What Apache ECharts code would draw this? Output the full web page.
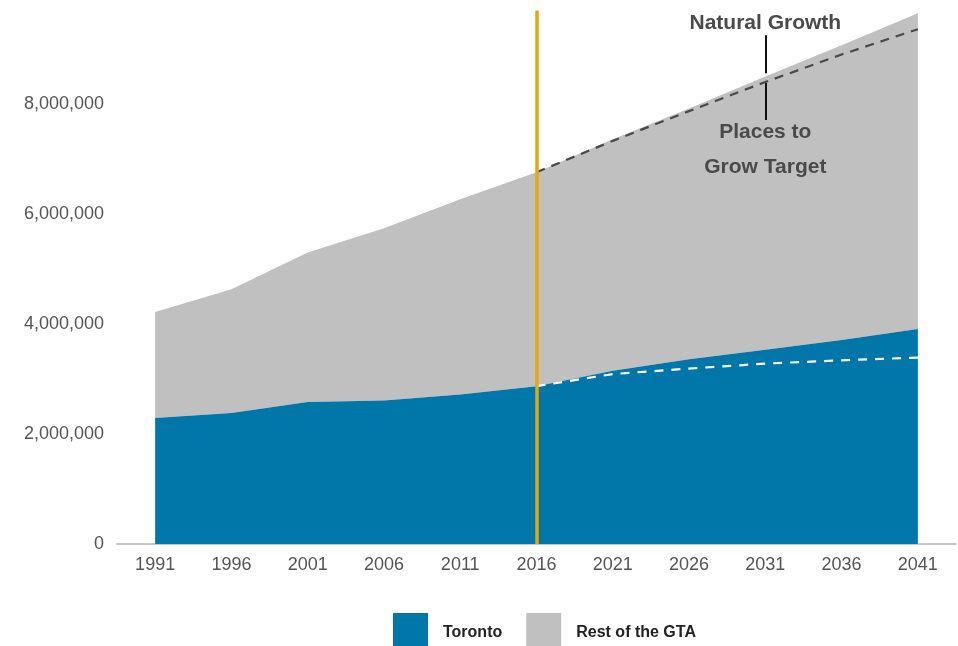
<!DOCTYPE html>
<html>
<head>
<meta charset="utf-8">
<script src="https://cdn.jsdelivr.net/npm/echarts@6/dist/echarts.min.js"></script>
<style>
  html, body { margin: 0; padding: 0; background: #ffffff; overflow: hidden; }
  #chart { width: 958px; height: 646px; }
</style>
</head>
<body>
<div id="chart"></div>
<script>
// ---- Data ----
const years = ['1991', '1996', '2001', '2006', '2011', '2016', '2021', '2026', '2031', '2036', '2041'];
const toronto = [2290000, 2380000, 2580000, 2610000, 2720000, 2870000, 3150000, 3360000, 3530000, 3710000, 3910000];
const restOfGta = [1930000, 2250000, 2720000, 3130000, 3550000, 3890000, 4210000, 4560000, 4970000, 5360000, 5740000];
const gtaTarget = [null, null, null, null, null, 6760000, 7330000, 7870000, 8400000, 8900000, 9360000];
const torontoTarget = [null, null, null, null, null, 2870000, 3090000, 3190000, 3280000, 3340000, 3390000];
const yTicks = [0, 2000000, 4000000, 6000000, 8000000];
const markerYear = '2016';
const annotationYear = '2031';

const chart = echarts.init(document.getElementById('chart'));
const labelFont = 'Liberation Sans, Arial, sans-serif';

const option = {
  animation: false,
  backgroundColor: '#ffffff',
  grid: { left: 117, right: 2, top: 10.5, bottom: 102, containLabel: false },
  legend: {
    data: ['Toronto', 'Rest of the GTA'],
    left: 393, top: 613,
    padding: 0,
    icon: 'rect',
    itemWidth: 35, itemHeight: 40,
    itemGap: 24,
    textStyle: { fontFamily: labelFont, fontWeight: 'bold', fontSize: 16, color: '#222222', padding: [0, 0, 0, 10] }
  },
  xAxis: {
    type: 'category',
    data: years,
    boundaryGap: true,
    axisLine: { show: true, lineStyle: { color: '#c8c8c8', width: 2 } },
    axisTick: { show: false },
    axisLabel: { color: '#555555', fontSize: 18, fontFamily: labelFont, margin: 12 },
    splitLine: { show: false }
  },
  yAxis: {
    type: 'value',
    min: 0, max: 9700000, interval: 2000000,
    axisLine: { show: false },
    axisTick: { show: false },
    splitLine: { show: false },
    axisLabel: {
      color: '#555555', fontSize: 18, fontFamily: labelFont, margin: 13,
      formatter: function (v) { return yTicks.indexOf(v) >= 0 ? v.toLocaleString('en-US') : ''; }
    }
  },
  series: [
    {
      name: 'Toronto', type: 'line', stack: 'pop',
      data: toronto, symbol: 'none',
      lineStyle: { width: 0 },
      itemStyle: { color: '#0076a9' },
      areaStyle: { color: '#0076a9', opacity: 1 },
      z: 2
    },
    {
      name: 'Rest of the GTA', type: 'line', stack: 'pop',
      data: restOfGta, symbol: 'none',
      lineStyle: { width: 0 },
      itemStyle: { color: '#c0c0c0' },
      areaStyle: { color: '#c0c0c0', opacity: 1 },
      z: 1
    },
    {
      name: 'Toronto target', type: 'line',
      data: torontoTarget, symbol: 'none',
      lineStyle: { color: '#ffffff', width: 2.2, type: [9, 8] },
      z: 4
    },
    {
      name: 'Marker', type: 'line', data: [], symbol: 'none',
      markLine: {
        silent: true, symbol: 'none', animation: false,
        label: { show: false },
        lineStyle: { color: '#e3a812', width: 3.5, type: 'solid' },
        data: [{ xAxis: markerYear }]
      },
      z: 5
    },
    {
      name: 'GTA target', type: 'line',
      data: gtaTarget, symbol: 'none',
      lineStyle: { color: '#4a4a4a', width: 2.2, type: [9, 7] },
      z: 4,
      markLine: {
        silent: true, symbol: 'none', animation: false,
        label: { show: false },
        lineStyle: { color: '#111111', width: 2, type: 'solid' },
        data: [
          [{ coord: [annotationYear, 9250000] }, { coord: [annotationYear, 8560000] }],
          [{ coord: [annotationYear, 8380000] }, { coord: [annotationYear, 7710000] }]
        ]
      },
      markPoint: {
        silent: true, symbol: 'rect', symbolSize: 0, animation: false,
        label: {
          show: true, position: 'inside', color: '#4a4a4a', fontSize: 21,
          fontWeight: 'bold', fontFamily: labelFont, lineHeight: 35, align: 'center'
        },
        data: [
          { coord: [annotationYear, 9470000], value: 'Natural Growth', label: { formatter: 'Natural Growth' } },
          { coord: [annotationYear, 7170000], value: 'Places to Grow Target', label: { formatter: 'Places to\nGrow Target' } }
        ]
      }
    }
  ]
};
chart.setOption(option);
</script>
</body>
</html>
